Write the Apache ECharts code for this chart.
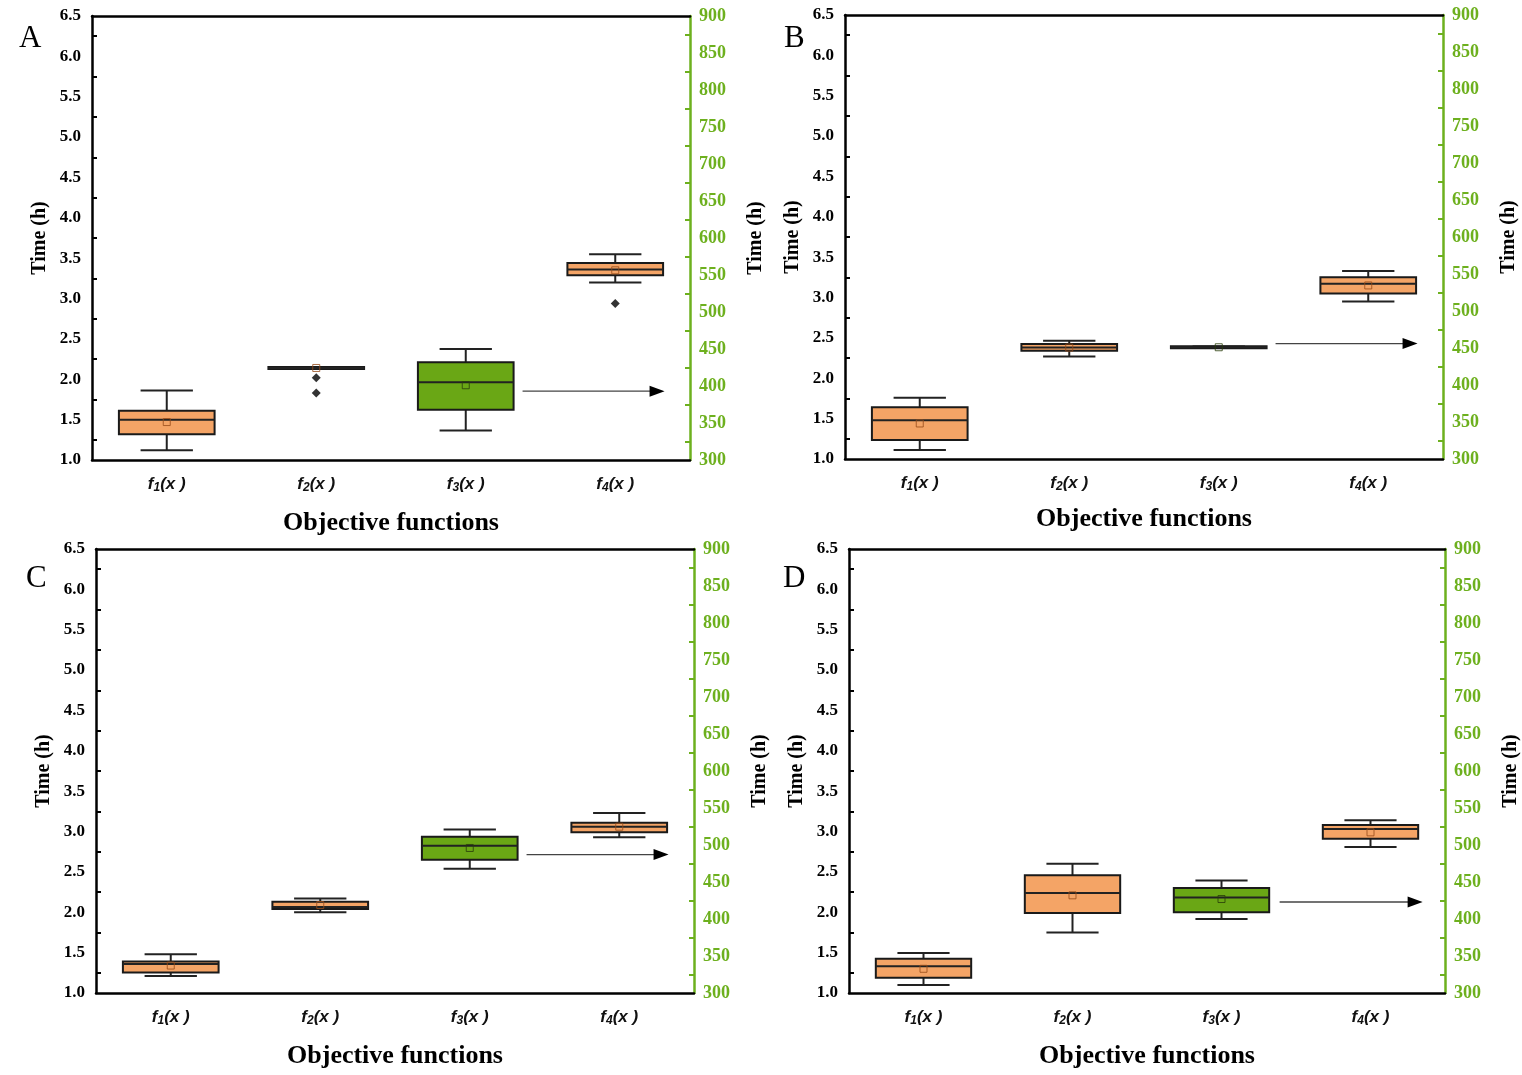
<!DOCTYPE html>
<html>
<head>
<meta charset="utf-8">
<script src="https://cdn.jsdelivr.net/npm/echarts@6/dist/echarts.min.js"></script>
<style>
  html, body { margin: 0; padding: 0; background: #fff; }
  #chart { width: 1522px; height: 1075px; }
</style>
</head>
<body>
<div id="chart"></div>
<script>
// categories on the x axis
const categories = ['f1(x)', 'f2(x)', 'f3(x)', 'f4(x)'];
const leftTicks = [1.0, 6.5, 0.5];   // min, max, interval (left axis, h)
const rightTicks = [300, 900, 50];   // min, max, interval (right axis)

// box stats: [category, min, q1, median, q3, max, mean]
// f1, f2, f4 read on the left axis, f3 on the green right axis
const boxesA = [[0, 1.12, 1.32, 1.50, 1.61, 1.86, 1.47], [1, 2.13, 2.128, 2.14, 2.152, 2.15, 2.14], [3, 3.20, 3.29, 3.36, 3.44, 3.55, 3.35]];
const rightA = [[2, 340, 368, 405, 432, 450, 401]];
const outliersA = [[1, 2.02], [1, 1.83], [3, 2.94]];
const arrowA = [[0, 393, 2.38, 3.33]];

const boxesB = [[0, 1.11, 1.235, 1.48, 1.64, 1.76, 1.44], [1, 2.27, 2.34, 2.38, 2.425, 2.465, 2.38], [3, 2.95, 3.05, 3.17, 3.25, 3.33, 3.15]];
const rightB = [[2, 450, 449.6, 451, 452.4, 452, 451]];
const outliersB = [];
const arrowB = [[0, 456, 2.38, 3.33]];

const boxesC = [[0, 1.21, 1.255, 1.36, 1.39, 1.48, 1.34], [1, 2.00, 2.04, 2.065, 2.13, 2.17, 2.09], [3, 2.93, 2.99, 3.06, 3.11, 3.23, 3.06]];
const rightC = [[2, 468, 480, 499, 511, 521, 496]];
const outliersC = [];
const arrowC = [[0, 487, 2.38, 3.33]];

const boxesD = [[0, 1.10, 1.19, 1.33, 1.425, 1.495, 1.30], [1, 1.75, 1.99, 2.24, 2.46, 2.60, 2.21], [3, 2.81, 2.91, 3.03, 3.08, 3.14, 2.99]];
const rightD = [[2, 400, 409, 429, 442, 452, 427]];
const outliersD = [];
const arrowD = [[0, 423, 2.39, 3.35]];

const panels = [
  { name: 'A', grid: { left: 92, top: 16 }, letter: [14, 18], gap: 50, boxes: boxesA, right: rightA, outliers: outliersA, arrow: arrowA },
  { name: 'B', grid: { left: 845, top: 15 }, letter: [779, 18], gap: 47, boxes: boxesB, right: rightB, outliers: outliersB, arrow: arrowB },
  { name: 'C', grid: { left: 96, top: 549 }, letter: [21, 558], gap: 50, boxes: boxesC, right: rightC, outliers: outliersC, arrow: arrowC },
  { name: 'D', grid: { left: 849, top: 549 }, letter: [778, 558], gap: 50, boxes: boxesD, right: rightD, outliers: outliersD, arrow: arrowD }
];

const ORANGE = '#F4A466';
const GREEN = '#6AA715';
const AXIS_GREEN = '#6DB01E';
const SERIF = '"Liberation Serif", "DejaVu Serif", serif';
const SANS = '"Liberation Sans", Arial, sans-serif';

function boxRenderer(fill, meanColor) {
  return function (params, api) {
    const c = api.value(0);
    const bw = api.size([1, 0])[0];
    const x = api.coord([c, api.value(3)])[0];
    const y = k => api.coord([c, api.value(k)])[1];
    const half = bw * 0.32;
    const cap = bw * 0.175;
    const line = (x1, y1, x2, y2, w) => ({
      type: 'line', shape: { x1, y1, x2, y2 }, style: { stroke: '#222', lineWidth: w }
    });
    return {
      type: 'group',
      children: [
        line(x, y(1), x, y(2), 2),
        line(x, y(4), x, y(5), 2),
        line(x - cap, y(1), x + cap, y(1), 2),
        line(x - cap, y(5), x + cap, y(5), 2),
        {
          type: 'rect',
          shape: { x: x - half, y: y(4), width: half * 2, height: y(2) - y(4) },
          style: { fill: fill, stroke: '#1a1a1a', lineWidth: 2 }
        },
        line(x - half, y(3), x + half, y(3), 2),
        {
          type: 'rect',
          shape: { x: x - 3.5, y: y(6) - 3.5, width: 7, height: 7 },
          style: { fill: 'none', stroke: meanColor, lineWidth: 1 }
        }
      ]
    };
  };
}

function arrowRenderer(params, api) {
  const bw = api.size([1, 0])[0];
  const p0 = api.coord([0, api.value(1)]);
  const x1 = p0[0] + api.value(2) * bw;
  const x2 = p0[0] + api.value(3) * bw;
  const y = p0[1];
  return {
    type: 'group',
    children: [
      { type: 'line', shape: { x1: x1, y1: y, x2: x2 - 12, y2: y }, style: { stroke: '#444', lineWidth: 1.3 } },
      { type: 'polygon', shape: { points: [[x2, y], [x2 - 15, y - 5.5], [x2 - 15, y + 5.5]] }, style: { fill: '#000' } }
    ]
  };
}

const option = { animation: false, grid: [], xAxis: [], yAxis: [], series: [], title: [] };

panels.forEach((p, i) => {
  option.grid.push({ left: p.grid.left, top: p.grid.top, width: 598, height: 444, containLabel: false });
  option.title.push({ text: p.name, left: p.letter[0], top: p.letter[1], textStyle: { fontFamily: SERIF, fontSize: 31, fontWeight: 'normal', color: '#000' } });

  // bottom category axis
  option.xAxis.push({
    type: 'category', gridIndex: i, data: categories, boundaryGap: true,
    name: 'Objective functions', nameLocation: 'middle', nameGap: p.gap,
    nameTextStyle: { fontFamily: SERIF, fontSize: 26, fontWeight: 'bold', color: '#000' },
    axisLine: { lineStyle: { color: '#000', width: 2.5 } },
    axisTick: { alignWithLabel: true, length: 7, lineStyle: { color: '#000', width: 2 } },
    axisLabel: {
      margin: 14,
      formatter: v => `{f|f}{s|${v[1]}}{f|${v.slice(2, 4)} )}`,
      rich: {
        f: { fontFamily: SANS, fontSize: 17, fontWeight: 'bold', fontStyle: 'italic', color: '#111', lineHeight: 20 },
        s: { fontFamily: SANS, fontSize: 12, fontWeight: 'bold', fontStyle: 'italic', color: '#111', verticalAlign: 'bottom', lineHeight: 14 }
      }
    },
    splitLine: { show: false }
  });
  // top border
  option.xAxis.push({
    type: 'category', gridIndex: i, data: categories, position: 'top',
    axisLine: { lineStyle: { color: '#000', width: 2.5 } },
    axisTick: { show: false }, axisLabel: { show: false }, splitLine: { show: false }
  });

  const yBase = {
    type: 'value', gridIndex: i, nameLocation: 'middle', name: 'Time (h)',
    nameTextStyle: { fontFamily: SERIF, fontSize: 20, fontWeight: 'bold', color: '#000' },
    splitLine: { show: false }
  };
  option.yAxis.push(Object.assign({}, yBase, {
    position: 'left', min: leftTicks[0], max: leftTicks[1], interval: leftTicks[2], nameGap: 42,
    axisLine: { show: true, lineStyle: { color: '#000', width: 2.5 } },
    axisTick: { inside: true, length: 8, lineStyle: { color: '#000', width: 2 } },
    minorTick: { show: true, splitNumber: 2, length: 5, lineStyle: { color: '#000', width: 2 } },
    axisLabel: { margin: 11, formatter: v => v.toFixed(1), fontFamily: SERIF, fontSize: 17, fontWeight: 'bold', color: '#000' }
  }));
  option.yAxis.push(Object.assign({}, yBase, {
    position: 'right', min: rightTicks[0], max: rightTicks[1], interval: rightTicks[2], nameGap: 56,
    axisLine: { show: true, lineStyle: { color: AXIS_GREEN, width: 2.5 } },
    axisTick: { inside: true, length: 8, lineStyle: { color: AXIS_GREEN, width: 2 } },
    minorTick: { show: true, splitNumber: 2, length: 5, lineStyle: { color: AXIS_GREEN, width: 2 } },
    axisLabel: { margin: 9, fontFamily: SERIF, fontSize: 18, fontWeight: 'bold', color: AXIS_GREEN }
  }));

  const xi = i * 2, yl = i * 2, yr = i * 2 + 1;
  option.series.push({
    type: 'custom', xAxisIndex: xi, yAxisIndex: yl, data: p.boxes,
    encode: { x: 0, y: [1, 2, 3, 4, 5, 6] }, renderItem: boxRenderer(ORANGE, 'rgba(150,75,25,0.8)')
  });
  option.series.push({
    type: 'custom', xAxisIndex: xi, yAxisIndex: yr, data: p.right,
    encode: { x: 0, y: [1, 2, 3, 4, 5, 6] }, renderItem: boxRenderer(GREEN, 'rgba(40,60,10,0.8)')
  });
  option.series.push({
    type: 'scatter', xAxisIndex: xi, yAxisIndex: yl, data: p.outliers,
    symbol: 'diamond', symbolSize: 9, itemStyle: { color: '#000' }
  });
  option.series.push({
    type: 'custom', xAxisIndex: xi, yAxisIndex: yr, data: p.arrow,
    encode: { x: 0, y: 1 }, renderItem: arrowRenderer
  });
});

const chart = echarts.init(document.getElementById('chart'));
chart.setOption(option);
</script>
</body>
</html>
